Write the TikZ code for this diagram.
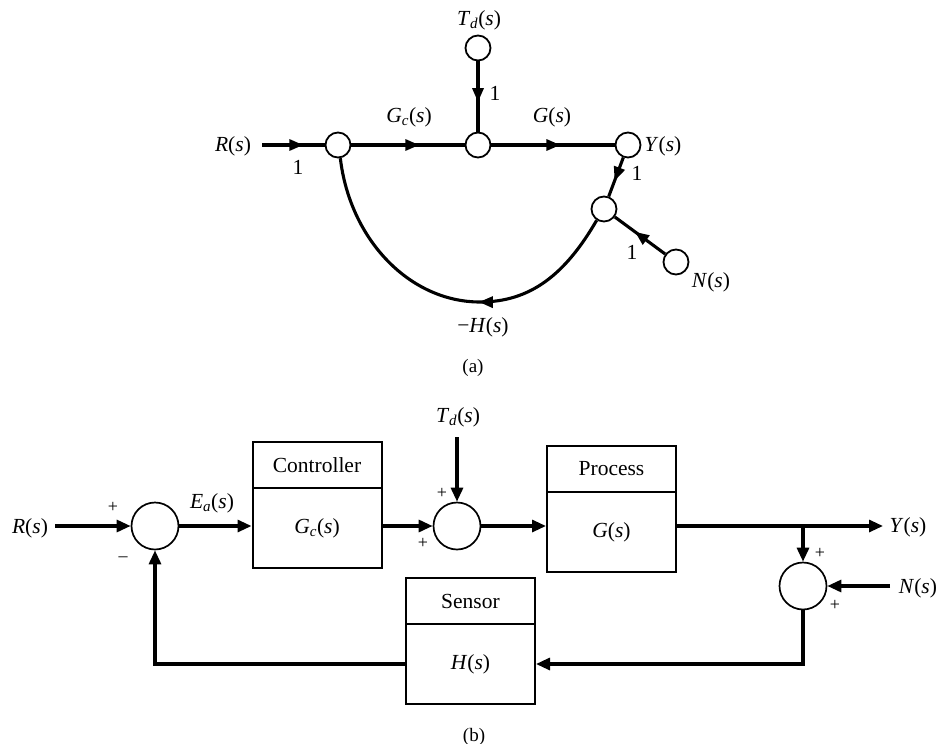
\documentclass[tikz,border=0pt]{standalone}
\usepackage{fontspec}
\setmainfont{Liberation Serif}
\usetikzlibrary{arrows.meta,decorations.markings}
\newcommand{\iv}[1]{\textit{#1}}
\newcommand{\sbs}[1]{\textsubscript{\textit{#1}}}
\begin{document}
\begin{tikzpicture}[x=1pt,y=-1pt,
  every node/.style={font=\fontsize{21.5}{25}\selectfont},
  sfnode/.style={circle,draw,line width=1.8pt,minimum size=25pt,inner sep=0pt},
  sumj/.style={circle,draw,line width=1.7pt,minimum size=47pt,inner sep=0pt},
  blk/.style={draw,line width=2pt,minimum width=129pt,inner sep=0pt},
  flow/.style={line width=3.1pt},
  >={Triangle[length=14pt,width=12pt]},
  midarrow/.style={postaction={decorate},decoration={markings,
     mark=at position #1 with {\arrow{Triangle[length=14pt,width=11pt]}}}},
  sgn/.style={font=\fontsize{18}{20}\selectfont},
  captxt/.style={font=\fontsize{19}{22}\selectfont}]
\useasboundingbox (0,0) rectangle (948,744);
% ---------------- (a) signal-flow graph ----------------
\node[sfnode] (n1) at (338,145) {};
\node[sfnode] (n2) at (478,145) {};
\node[sfnode] (ny) at (628,145) {};
\node[sfnode] (ntd) at (478,48) {};
\node[sfnode] (n4) at (604,209) {};
\node[sfnode] (nn) at (676,262) {};
\coordinate (rin) at (262,145);
\coordinate (hb) at (480,302);
\node (lR) at (233,146) {\iv{R}(\iv{s})};
\node (lTd) at (479,20) {\iv{T}\sbs{d}(\iv{s})};
\node (lGc) at (409,117) {\iv{G}\sbs{c}(\iv{s})};
\node (lG) at (552,117) {\iv{G}(\iv{s})};
\node (lY) at (663,146) {\iv{Y}(\iv{s})};
\node (lN) at (711,282) {\iv{N}(\iv{s})};
\node (lH) at (483,327) {−\iv{H}(\iv{s})};
\node (o1) at (298,167) {1};
\node (o2) at (495,93) {1};
\node (o3) at (637,173) {1};
\node (o4) at (632,252) {1};
\draw[flow,midarrow=0.66] (rin) -- (n1.west);
\draw[flow,midarrow=0.6] (n1.east) -- (n2.west);
\draw[flow,midarrow=0.56] (n2.east) -- (ny.west);
\draw[flow,midarrow=0.58] (ntd.south) -- (n2.north);
\draw[flow,midarrow=0.6] (ny) -- (n4);
\draw[flow,midarrow=0.6] (nn) -- (n4);
\draw[flow,midarrow=0.41] (n4.237) .. controls (565,275) and (530,302) .. (hb)
   .. controls (410,302) and (350,240) .. (n1.280);
\node[captxt] (la) at (473,368) {(a)};
% ---------------- (b) block diagram ----------------
\node[sumj] (s1) at (155,526) {};
\node[sumj] (s2) at (457,526) {};
\node[sumj] (s3) at (803,586) {};
\node[blk,minimum height=46pt] (ctop) at (317,465) {Controller};
\node[blk,minimum height=80pt] (cbot) at (317,528) {\iv{G}\sbs{c}(\iv{s})};
\node[blk,minimum height=46pt] (ptop) at (611.5,469) {Process};
\node[blk,minimum height=80pt] (pbot) at (611.5,532) {\iv{G}(\iv{s})};
\node[blk,minimum height=46pt] (stop) at (470.5,601) {Sensor};
\node[blk,minimum height=80pt] (sbot) at (470.5,664) {\iv{H}(\iv{s})};
\coordinate (rbin) at (55,526);
\coordinate (tdin) at (457,437);
\coordinate (br) at (803,526);
\coordinate (yout) at (883,526);
\coordinate (nin) at (890,586);
\node (bR) at (30,528) {\iv{R}(\iv{s})};
\node (bEa) at (212,503) {\iv{E}\sbs{a}(\iv{s})};
\node (bTd) at (458,417) {\iv{T}\sbs{d}(\iv{s})};
\node (bY) at (908,527) {\iv{Y}(\iv{s})};
\node (bN) at (918,588) {\iv{N}(\iv{s})};
\node[sgn] (p1) at (113,507) {+};
\node[sgn] (m1) at (123,559) {–};
\node[sgn] (p2) at (442,493) {+};
\node[sgn] (p3) at (423,543) {+};
\node[sgn] (p4) at (820,553) {+};
\node[sgn] (p5) at (835,605) {+};
\draw[flow,->] (rbin) -- (s1.west);
\draw[flow,->] (s1.east) -- (s1.east -| cbot.west);
\draw[flow,->] (s1.east -| cbot.east) -- (s2.west);
\draw[flow,->] (tdin) -- (s2.north);
\draw[flow,->] (s2.east) -- (s2.east -| pbot.west);
\draw[flow] (s2.east -| pbot.east) -- (br);
\draw[flow,->] (br) -- (yout);
\draw[flow,->] (br) -- (s3.north);
\draw[flow,->] (nin) -- (s3.east);
\draw[flow,->] (s3.south) |- (sbot.east);
\draw[flow,->] (sbot.west) -| (s1.south);
\node[captxt] (lb) at (474,737) {(b)};
\end{tikzpicture}
\end{document}
